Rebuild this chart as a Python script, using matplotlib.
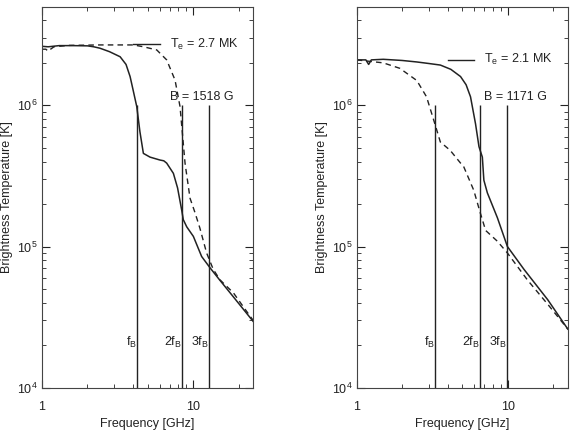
import numpy as np
import matplotlib.pyplot as plt
from matplotlib.ticker import LogLocator, FixedLocator, FixedFormatter, NullFormatter

plt.rcParams['font.family'] = ['Liberation Sans', 'DejaVu Sans']
plt.rcParams['mathtext.default'] = 'regular'

# left panel: B = 1518 G, Te = 2.7 MK
f_left_solid = [1.0, 1.1, 1.3, 1.6, 2.0, 2.2, 2.42, 2.8, 3.29, 3.6, 3.83, 4.0, 4.24, 4.45,
                4.69, 5.19, 6.04, 6.4, 6.69, 7.41, 7.9, 8.42, 8.62, 9.08, 10.05, 11.4,
                12.97, 15.0, 18.5, 25.0]
tb_left_solid = [2.62e6, 2.6e6, 2.65e6, 2.65e6, 2.64e6, 2.6e6, 2.54e6, 2.4e6, 2.21e6, 1.95e6,
                 1.6e6, 1.3e6, 9.8e5, 6.5e5, 4.57e5, 4.3e5, 4.1e5, 4.05e5, 3.9e5, 3.3e5,
                 2.6e5, 1.8e5, 1.55e5, 1.38e5, 1.18e5, 8.5e4, 7.06e4, 5.8e4, 4.4e4, 2.95e4]
f_left_dash = [1.0, 1.06, 1.1, 1.14, 1.2, 1.5, 2.42, 4.03, 4.7, 5.75, 6.69, 7.6, 8.2, 8.85,
               9.55, 10.3, 11.1, 12.3, 13.6, 15.1, 18.5, 22.1, 25.0]
tb_left_dash = [2.5e6, 2.5e6, 2.42e6, 2.5e6, 2.6e6, 2.66e6, 2.68e6, 2.68e6, 2.6e6, 2.47e6,
                2.1e6, 1.51e6, 9.8e5, 3.9e5, 2.2e5, 1.74e5, 1.35e5, 9.0e4, 6.9e4, 5.8e4,
                4.7e4, 3.6e4, 3.0e4]

# right panel: B = 1171 G, Te = 2.1 MK
f_right_solid = [1.0, 1.15, 1.2, 1.25, 1.5, 2.0, 2.5, 3.0, 3.58, 4.2, 4.87, 5.3, 5.67, 6.12,
                 6.45, 6.79, 6.95, 7.33, 8.54, 9.95, 12.8, 18.4, 25.0]
tb_right_solid = [2.1e6, 2.1e6, 1.95e6, 2.1e6, 2.12e6, 2.08e6, 2.03e6, 1.98e6, 1.93e6, 1.8e6,
                  1.6e6, 1.4e6, 1.15e6, 7.4e5, 5.1e5, 4.3e5, 2.95e5, 2.4e5, 1.6e5, 1.0e5,
                  6.9e4, 4.2e4, 2.6e4]
f_right_dash = [1.0, 1.5, 1.93, 2.5, 2.9, 3.28, 3.58, 4.16, 4.87, 5.1, 5.96, 6.56, 7.14,
                8.54, 9.95, 13.5, 18.4, 25.0]
tb_right_dash = [2.1e6, 2.0e6, 1.83e6, 1.5e6, 1.15e6, 7.5e5, 5.5e5, 4.8e5, 3.9e5, 3.7e5,
                 2.5e5, 1.75e5, 1.3e5, 1.09e5, 9.0e4, 5.8e4, 3.9e4, 2.6e4]

panels = [
    (f_left_solid, tb_left_solid, f_left_dash, tb_left_dash, 1518, 2.7),
    (f_right_solid, tb_right_solid, f_right_dash, tb_right_dash, 1171, 2.1),
]

fig = plt.figure(figsize=(5.73, 4.32), dpi=100)
lefts = [0.0733, 0.6225]
col = '#222222'

for left, (fs, ts, fd, td, B, Te) in zip(lefts, panels):
    ax = fig.add_axes([left, 0.1025, 0.3685, 0.882])
    ax.set_xscale('log')
    ax.set_yscale('log')
    ax.plot(fs, ts, color=col, lw=1.1)
    ax.plot(fd, td, color=col, lw=1.0, dashes=(4, 3))

    # cyclotron harmonics, fB = 2.8 MHz/G * B
    fB = 2.8e-3 * B
    harm = [fB, 2 * fB, 3 * fB]
    ax.vlines(harm, 1e4, 1e6, color=col, lw=1.0)
    for f, lab in zip(harm, ['f$_B$', '2f$_B$', '3f$_B$']):
        ax.text(f, 2.1e4, lab, ha='right', va='center', fontsize=9, color=col)

    ax.plot([4.0, 6.0], [Te * 1e6, Te * 1e6], color=col, lw=1.0)
    ax.text(7.0, Te * 1e6, 'T$_e$ = %.1f MK' % Te, va='center', fontsize=9, color=col)
    ax.text(7.0, 1.15e6, 'B = %d G' % B, va='center', fontsize=9, color=col)

    ax.set_xlim(1, 25)
    ax.set_ylim(1e4, 5e6)
    ax.xaxis.set_major_locator(FixedLocator([1, 10]))
    ax.xaxis.set_major_formatter(FixedFormatter(['1', '10']))
    ax.xaxis.set_minor_locator(LogLocator(base=10, subs=np.arange(2, 10)))
    ax.xaxis.set_minor_formatter(NullFormatter())
    ax.yaxis.set_minor_locator(LogLocator(base=10, subs=np.arange(2, 10)))
    ax.yaxis.set_minor_formatter(NullFormatter())
    ax.tick_params(which='both', direction='in', top=True, right=True, colors=col,
                   labelsize=9)
    ax.tick_params(which='major', length=6)
    ax.tick_params(which='minor', length=3)
    ax.tick_params(axis='x', which='major', pad=9.5)
    ax.tick_params(axis='y', which='major', pad=3)
    for s in ax.spines.values():
        s.set_color('#444444')
    ax.set_xlabel('Frequency [GHz]', fontsize=9, color=col)
    ax.set_ylabel('Brightness Temperature [K]', fontsize=9, color=col)
    ax.yaxis.set_label_coords(-0.135, 0.5)

fig.savefig('out.png', dpi=100)
